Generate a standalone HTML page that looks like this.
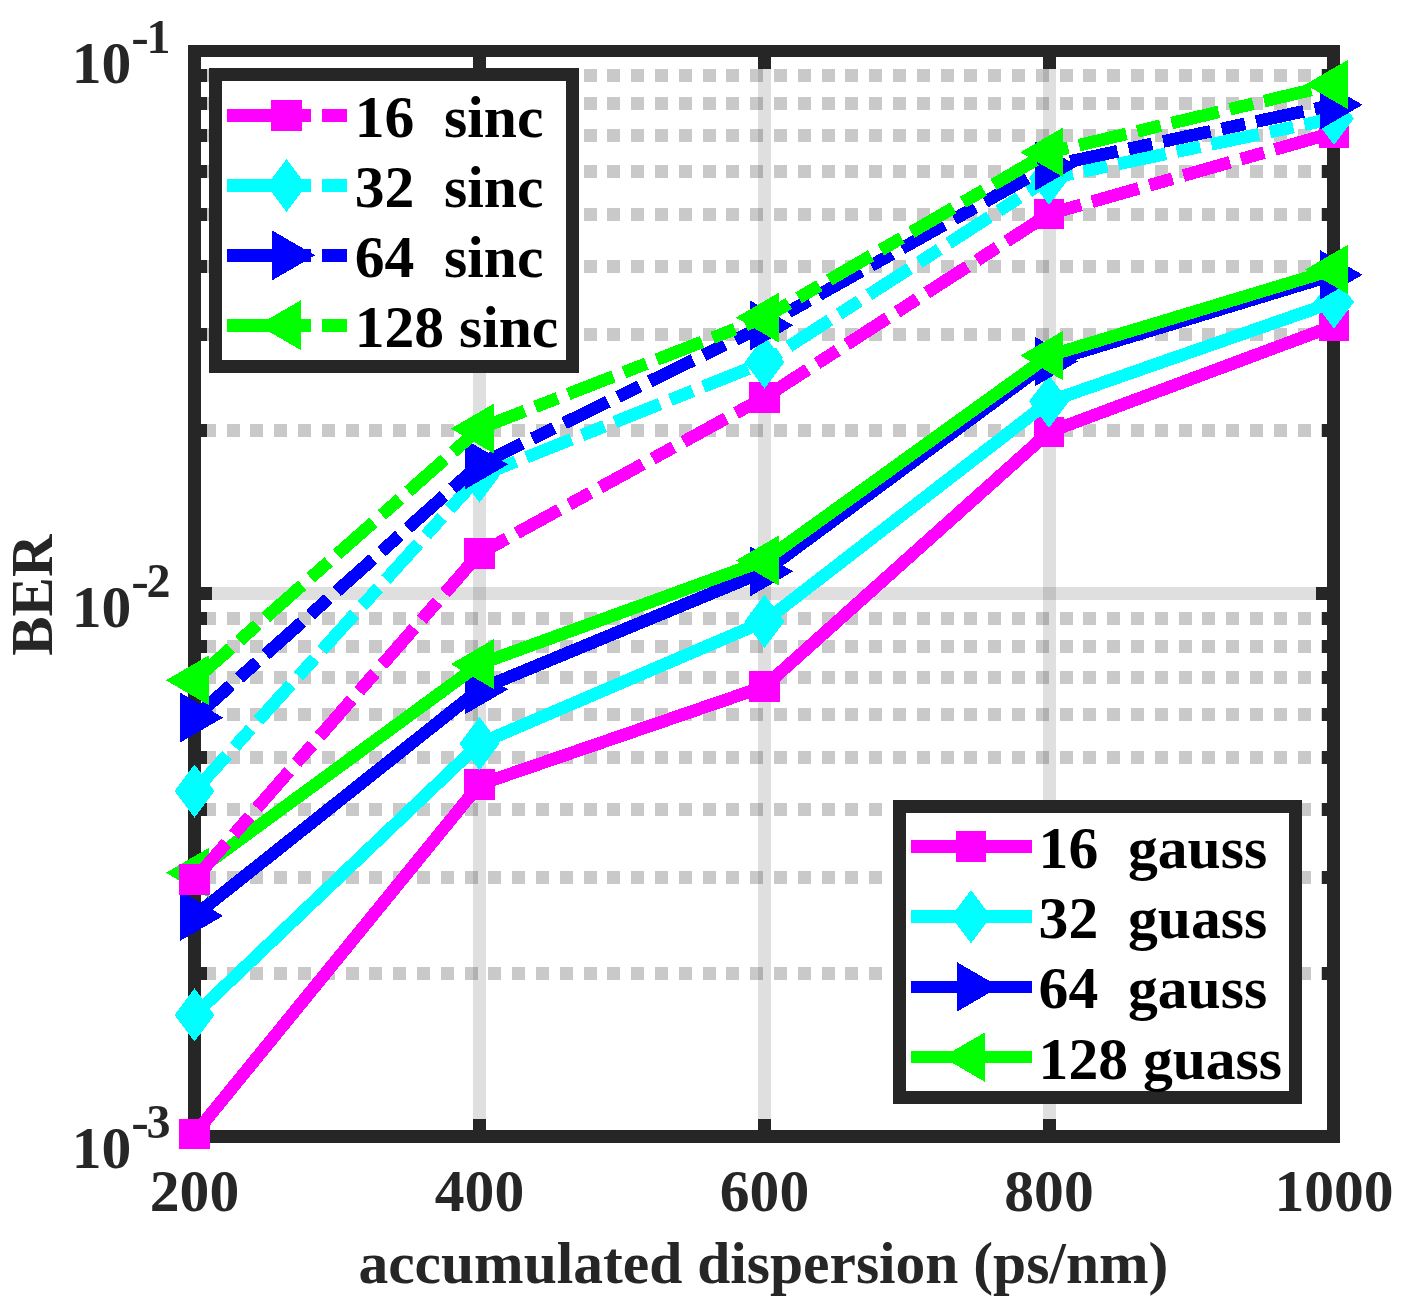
<!DOCTYPE html>
<html><head><meta charset="utf-8"><title>BER vs accumulated dispersion</title>
<style>html,body{margin:0;padding:0;background:#fff}svg{display:block;will-change:transform}text{font-family:"Liberation Serif","Times New Roman",serif;font-weight:bold}</style></head>
<body>
<svg width="1403" height="1309" viewBox="0 0 1403 1309" shape-rendering="crispEdges">
<rect width="1403" height="1309" fill="#fff"/>
<defs><clipPath id="ax"><rect x="194.5" y="51.0" width="1139.0" height="1085.5"/></clipPath></defs>
<g stroke="rgba(38,38,38,0.15)" stroke-width="12.6" fill="none">
<line x1="479.50" y1="51.0" x2="479.50" y2="1136.5"/>
<line x1="764.50" y1="51.0" x2="764.50" y2="1136.5"/>
<line x1="1049.50" y1="51.0" x2="1049.50" y2="1136.5"/>
<line x1="194.5" y1="593.75" x2="1333.5" y2="593.75"/>
</g>
<g stroke="rgba(38,38,38,0.25)" stroke-width="13" fill="none" stroke-dasharray="13 10.8">
<line x1="1334.40" y1="973.12" x2="194.5" y2="973.12"/>
<line x1="1334.40" y1="877.54" x2="194.5" y2="877.54"/>
<line x1="1334.40" y1="809.73" x2="194.5" y2="809.73"/>
<line x1="1334.40" y1="757.13" x2="194.5" y2="757.13"/>
<line x1="1334.40" y1="714.16" x2="194.5" y2="714.16"/>
<line x1="1334.40" y1="677.82" x2="194.5" y2="677.82"/>
<line x1="1334.40" y1="646.35" x2="194.5" y2="646.35"/>
<line x1="1334.40" y1="618.58" x2="194.5" y2="618.58"/>
<line x1="1334.40" y1="430.37" x2="194.5" y2="430.37"/>
<line x1="1334.40" y1="334.79" x2="194.5" y2="334.79"/>
<line x1="1334.40" y1="266.98" x2="194.5" y2="266.98"/>
<line x1="1334.40" y1="214.38" x2="194.5" y2="214.38"/>
<line x1="1334.40" y1="171.41" x2="194.5" y2="171.41"/>
<line x1="1334.40" y1="135.07" x2="194.5" y2="135.07"/>
<line x1="1334.40" y1="103.60" x2="194.5" y2="103.60"/>
<line x1="1334.40" y1="75.83" x2="194.5" y2="75.83"/>
</g>
<g stroke="#262626" stroke-width="12.6" fill="none" stroke-linecap="square">
<rect x="194.5" y="51.0" width="1139.0" height="1085.5"/>
</g>
<g stroke="#262626" stroke-width="13" fill="none" stroke-linecap="butt">
<line x1="479.5" y1="1136.5" x2="479.5" y2="1118.8"/>
<line x1="479.5" y1="51.0" x2="479.5" y2="68.7"/>
<line x1="764.5" y1="1136.5" x2="764.5" y2="1118.8"/>
<line x1="764.5" y1="51.0" x2="764.5" y2="68.7"/>
<line x1="1049.5" y1="1136.5" x2="1049.5" y2="1118.8"/>
<line x1="1049.5" y1="51.0" x2="1049.5" y2="68.7"/>
<line x1="194.5" y1="593.75" x2="212.2" y2="593.75"/>
<line x1="1333.5" y1="593.75" x2="1315.8" y2="593.75"/>
<line x1="194.5" y1="973.12" x2="207.0" y2="973.12"/>
<line x1="1333.5" y1="973.12" x2="1321.5" y2="973.12"/>
<line x1="194.5" y1="877.54" x2="207.0" y2="877.54"/>
<line x1="1333.5" y1="877.54" x2="1321.5" y2="877.54"/>
<line x1="194.5" y1="809.73" x2="207.0" y2="809.73"/>
<line x1="1333.5" y1="809.73" x2="1321.5" y2="809.73"/>
<line x1="194.5" y1="757.13" x2="207.0" y2="757.13"/>
<line x1="1333.5" y1="757.13" x2="1321.5" y2="757.13"/>
<line x1="194.5" y1="714.16" x2="207.0" y2="714.16"/>
<line x1="1333.5" y1="714.16" x2="1321.5" y2="714.16"/>
<line x1="194.5" y1="677.82" x2="207.0" y2="677.82"/>
<line x1="1333.5" y1="677.82" x2="1321.5" y2="677.82"/>
<line x1="194.5" y1="646.35" x2="207.0" y2="646.35"/>
<line x1="1333.5" y1="646.35" x2="1321.5" y2="646.35"/>
<line x1="194.5" y1="618.58" x2="207.0" y2="618.58"/>
<line x1="1333.5" y1="618.58" x2="1321.5" y2="618.58"/>
<line x1="194.5" y1="430.37" x2="207.0" y2="430.37"/>
<line x1="1333.5" y1="430.37" x2="1321.5" y2="430.37"/>
<line x1="194.5" y1="334.79" x2="207.0" y2="334.79"/>
<line x1="1333.5" y1="334.79" x2="1321.5" y2="334.79"/>
<line x1="194.5" y1="266.98" x2="207.0" y2="266.98"/>
<line x1="1333.5" y1="266.98" x2="1321.5" y2="266.98"/>
<line x1="194.5" y1="214.38" x2="207.0" y2="214.38"/>
<line x1="1333.5" y1="214.38" x2="1321.5" y2="214.38"/>
<line x1="194.5" y1="171.41" x2="207.0" y2="171.41"/>
<line x1="1333.5" y1="171.41" x2="1321.5" y2="171.41"/>
<line x1="194.5" y1="135.07" x2="207.0" y2="135.07"/>
<line x1="1333.5" y1="135.07" x2="1321.5" y2="135.07"/>
<line x1="194.5" y1="103.60" x2="207.0" y2="103.60"/>
<line x1="1333.5" y1="103.60" x2="1321.5" y2="103.60"/>
<line x1="194.5" y1="75.83" x2="207.0" y2="75.83"/>
<line x1="1333.5" y1="75.83" x2="1321.5" y2="75.83"/>
</g>
<g><polyline clip-path="url(#ax)" points="194.50,1134.20 479.50,784.50 764.50,686.50 1049.00,432.00 1334.00,325.70" fill="none" stroke="#ff00ff" stroke-width="12.6" stroke-linejoin="round"/>
<rect x="179.25" y="1118.95" width="30.50" height="30.50" fill="#ff00ff"/>
<rect x="464.25" y="769.25" width="30.50" height="30.50" fill="#ff00ff"/>
<rect x="749.25" y="671.25" width="30.50" height="30.50" fill="#ff00ff"/>
<rect x="1033.75" y="416.75" width="30.50" height="30.50" fill="#ff00ff"/>
<rect x="1318.75" y="310.45" width="30.50" height="30.50" fill="#ff00ff"/>
</g>
<g><polyline clip-path="url(#ax)" points="194.50,1014.90 479.50,743.60 764.50,621.40 1049.00,401.50 1334.00,302.00" fill="none" stroke="#00ffff" stroke-width="12.6" stroke-linejoin="round"/>
<polygon points="194.50,988.30 214.50,1014.90 194.50,1041.50 174.50,1014.90" fill="#00ffff"/>
<polygon points="479.50,717.00 499.50,743.60 479.50,770.20 459.50,743.60" fill="#00ffff"/>
<polygon points="764.50,594.80 784.50,621.40 764.50,648.00 744.50,621.40" fill="#00ffff"/>
<polygon points="1049.00,374.90 1069.00,401.50 1049.00,428.10 1029.00,401.50" fill="#00ffff"/>
<polygon points="1334.00,275.40 1354.00,302.00 1334.00,328.60 1314.00,302.00" fill="#00ffff"/>
</g>
<g><polyline clip-path="url(#ax)" points="194.50,915.90 479.50,689.30 764.50,571.40 1049.00,361.50 1334.00,274.80" fill="none" stroke="#0000ff" stroke-width="12.6" stroke-linejoin="round"/>
<polygon points="180.25,891.00 223.10,915.90 180.25,940.80" fill="#0000ff"/>
<polygon points="465.25,664.40 508.10,689.30 465.25,714.20" fill="#0000ff"/>
<polygon points="750.25,546.50 793.10,571.40 750.25,596.30" fill="#0000ff"/>
<polygon points="1034.75,336.60 1077.60,361.50 1034.75,386.40" fill="#0000ff"/>
<polygon points="1319.75,249.90 1362.60,274.80 1319.75,299.70" fill="#0000ff"/>
</g>
<g><polyline clip-path="url(#ax)" points="194.50,872.80 479.50,664.10 764.50,560.50 1049.00,355.60 1334.00,269.50" fill="none" stroke="#00ff00" stroke-width="12.6" stroke-linejoin="round"/>
<polygon points="208.75,847.90 165.90,872.80 208.75,897.70" fill="#00ff00"/>
<polygon points="493.75,639.20 450.90,664.10 493.75,689.00" fill="#00ff00"/>
<polygon points="778.75,535.60 735.90,560.50 778.75,585.40" fill="#00ff00"/>
<polygon points="1063.25,330.70 1020.40,355.60 1063.25,380.50" fill="#00ff00"/>
<polygon points="1348.25,244.60 1305.40,269.50 1348.25,294.40" fill="#00ff00"/>
</g>
<g><polyline clip-path="url(#ax)" points="194.50,879.50 479.50,553.50 764.50,397.40 1049.00,214.00 1334.00,132.60" fill="none" stroke="#ff00ff" stroke-width="12.6" stroke-linejoin="round" stroke-dasharray="48.5 11.3 24 11.3"/>
<rect x="179.25" y="864.25" width="30.50" height="30.50" fill="#ff00ff"/>
<rect x="464.25" y="538.25" width="30.50" height="30.50" fill="#ff00ff"/>
<rect x="749.25" y="382.15" width="30.50" height="30.50" fill="#ff00ff"/>
<rect x="1033.75" y="198.75" width="30.50" height="30.50" fill="#ff00ff"/>
<rect x="1318.75" y="117.35" width="30.50" height="30.50" fill="#ff00ff"/>
</g>
<g><polyline clip-path="url(#ax)" points="194.50,791.10 479.50,476.10 764.50,362.20 1049.00,178.50 1334.00,118.50" fill="none" stroke="#00ffff" stroke-width="12.6" stroke-linejoin="round" stroke-dasharray="48.5 11.3 24 11.3"/>
<polygon points="194.50,764.50 214.50,791.10 194.50,817.70 174.50,791.10" fill="#00ffff"/>
<polygon points="479.50,449.50 499.50,476.10 479.50,502.70 459.50,476.10" fill="#00ffff"/>
<polygon points="764.50,335.60 784.50,362.20 764.50,388.80 744.50,362.20" fill="#00ffff"/>
<polygon points="1049.00,151.90 1069.00,178.50 1049.00,205.10 1029.00,178.50" fill="#00ffff"/>
<polygon points="1334.00,91.90 1354.00,118.50 1334.00,145.10 1314.00,118.50" fill="#00ffff"/>
</g>
<g><polyline clip-path="url(#ax)" points="194.50,717.60 479.50,464.40 764.50,325.40 1049.00,166.00 1334.00,104.80" fill="none" stroke="#0000ff" stroke-width="12.6" stroke-linejoin="round" stroke-dasharray="48.5 11.3 24 11.3"/>
<polygon points="180.25,692.70 223.10,717.60 180.25,742.50" fill="#0000ff"/>
<polygon points="465.25,439.50 508.10,464.40 465.25,489.30" fill="#0000ff"/>
<polygon points="750.25,300.50 793.10,325.40 750.25,350.30" fill="#0000ff"/>
<polygon points="1034.75,141.10 1077.60,166.00 1034.75,190.90" fill="#0000ff"/>
<polygon points="1319.75,79.90 1362.60,104.80 1319.75,129.70" fill="#0000ff"/>
</g>
<g><polyline clip-path="url(#ax)" points="194.50,680.30 479.50,428.60 764.50,317.60 1049.00,152.30 1334.00,84.50" fill="none" stroke="#00ff00" stroke-width="12.6" stroke-linejoin="round" stroke-dasharray="48.5 11.3 24 11.3"/>
<polygon points="208.75,655.40 165.90,680.30 208.75,705.20" fill="#00ff00"/>
<polygon points="493.75,403.70 450.90,428.60 493.75,453.50" fill="#00ff00"/>
<polygon points="778.75,292.70 735.90,317.60 778.75,342.50" fill="#00ff00"/>
<polygon points="1063.25,127.40 1020.40,152.30 1063.25,177.20" fill="#00ff00"/>
<polygon points="1348.25,59.60 1305.40,84.50 1348.25,109.40" fill="#00ff00"/>
</g>
<rect x="215.5" y="74.7" width="357.29999999999995" height="291.6" fill="#fff" stroke="#262626" stroke-width="12.6"/>
<line x1="227.1" y1="115.6" x2="347.4" y2="115.6" stroke="#ff00ff" stroke-width="12.6" stroke-dasharray="48.5 11.3 24 11.3"/>
<rect x="271.25" y="100.35" width="30.50" height="30.50" fill="#ff00ff"/>
<text x="354.7" y="137.0" font-size="59.6" fill="#000" xml:space="preserve">16  sinc</text>
<line x1="227.1" y1="185.5" x2="347.4" y2="185.5" stroke="#00ffff" stroke-width="12.6" stroke-dasharray="48.5 11.3 24 11.3"/>
<polygon points="286.50,158.90 306.50,185.50 286.50,212.10 266.50,185.50" fill="#00ffff"/>
<text x="354.7" y="206.9" font-size="59.6" fill="#000" xml:space="preserve">32  sinc</text>
<line x1="227.1" y1="255.4" x2="347.4" y2="255.4" stroke="#0000ff" stroke-width="12.6" stroke-dasharray="48.5 11.3 24 11.3"/>
<polygon points="272.25,230.50 315.10,255.40 272.25,280.30" fill="#0000ff"/>
<text x="354.7" y="276.8" font-size="59.6" fill="#000" xml:space="preserve">64  sinc</text>
<line x1="227.1" y1="325.2" x2="347.4" y2="325.2" stroke="#00ff00" stroke-width="12.6" stroke-dasharray="48.5 11.3 24 11.3"/>
<polygon points="300.75,300.30 257.90,325.20 300.75,350.10" fill="#00ff00"/>
<text x="354.7" y="346.6" font-size="59.6" fill="#000" xml:space="preserve">128 sinc</text>
<rect x="899.5" y="806.6" width="396.0" height="290.69999999999993" fill="#fff" stroke="#262626" stroke-width="12.6"/>
<line x1="911.0" y1="846.5" x2="1031.5" y2="846.5" stroke="#ff00ff" stroke-width="12.6"/>
<rect x="955.75" y="831.25" width="30.50" height="30.50" fill="#ff00ff"/>
<text x="1038.6" y="867.9" font-size="59.6" fill="#000" xml:space="preserve">16  gauss</text>
<line x1="911.0" y1="916.6" x2="1031.5" y2="916.6" stroke="#00ffff" stroke-width="12.6"/>
<polygon points="971.00,890.00 991.00,916.60 971.00,943.20 951.00,916.60" fill="#00ffff"/>
<text x="1038.6" y="938.0" font-size="59.6" fill="#000" xml:space="preserve">32  guass</text>
<line x1="911.0" y1="986.9" x2="1031.5" y2="986.9" stroke="#0000ff" stroke-width="12.6"/>
<polygon points="956.75,962.00 999.60,986.90 956.75,1011.80" fill="#0000ff"/>
<text x="1038.6" y="1008.3" font-size="59.6" fill="#000" xml:space="preserve">64  gauss</text>
<line x1="911.0" y1="1057.1" x2="1031.5" y2="1057.1" stroke="#00ff00" stroke-width="12.6"/>
<polygon points="985.25,1032.20 942.40,1057.10 985.25,1082.00" fill="#00ff00"/>
<text x="1038.6" y="1078.5" font-size="59.6" fill="#000" xml:space="preserve">128 guass</text>
<g fill="#262626" font-size="59.6">
<text x="194.50" y="1211.3" text-anchor="middle">200</text>
<text x="479.50" y="1211.3" text-anchor="middle">400</text>
<text x="764.50" y="1211.3" text-anchor="middle">600</text>
<text x="1049.00" y="1211.3" text-anchor="middle">800</text>
<text x="1334.00" y="1211.3" text-anchor="middle">1000</text>
<text x="71.8" y="82.9">10</text>
<text transform="translate(131.3,52.8) scale(1.1,1)" font-size="48.0">-</text>
<text x="146.6" y="52.8" font-size="48.0">1</text>
<text x="71.8" y="626.9">10</text>
<text transform="translate(131.3,596.8) scale(1.1,1)" font-size="48.0">-</text>
<text x="146.6" y="596.8" font-size="48.0">2</text>
<text x="71.8" y="1167.8">10</text>
<text transform="translate(131.3,1137.7) scale(1.1,1)" font-size="48.0">-</text>
<text x="146.6" y="1137.7" font-size="48.0">3</text>
<text x="763.4" y="1283.4" text-anchor="middle" font-size="59.5">accumulated dispersion (ps/nm)</text>
<text transform="translate(51.6,595.1) rotate(-90)" text-anchor="middle" font-size="59">BER</text>
</g>
</svg>
</body></html>
